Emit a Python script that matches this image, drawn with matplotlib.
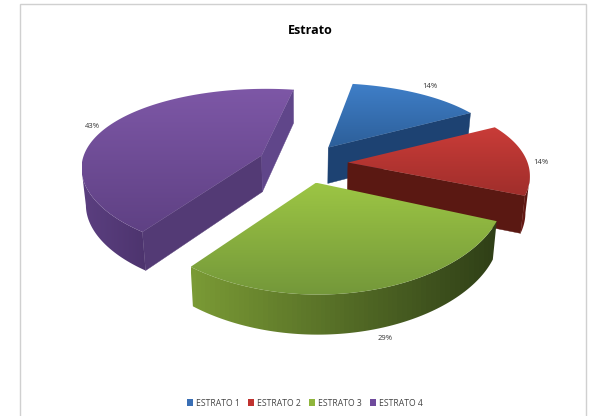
import numpy as np
from matplotlib import pyplot as plt
from matplotlib.colors import LinearSegmentedColormap
from matplotlib.patches import Patch, Polygon, Rectangle

# data
categories = ["ESTRATO 1", "ESTRATO 2", "ESTRATO 3", "ESTRATO 4"]
values = [14, 14, 29, 43]
label_text = ["14%", "14%", "29%", "43%"]

# styles
top_light = ["#3f7fc8", "#c93c38", "#9cc544", "#7d57a6"]
top_dark = ["#2d5f9a", "#a02e2b", "#74983a", "#5f4184"]
arc_light = ["#1d4272", "#6b1a16", "#7a9a35", "#5b3f80"]
arc_dark = ["#1a3a66", "#52160f", "#2f3f17", "#4d346e"]
wall_start = ["#1d4272", "#5a1812", "#3a4a1c", "#533a75"]
wall_end = ["#1d4272", "#5a1812", "#3a4a1c", "#60468a"]
legend_colors = ["#3a6fb5", "#c0322f", "#8fb53c", "#6f4a9c"]
label_pos = [(430, 86), (541, 162), (385, 339), (92, 127)]
slice_shift = [(-1, -1), (0, 0), (-2, -1), (-4, -1)]
slice_turn = [0, 1.5, 2.5, 0]

# projection of the exploded pie, in pixels
cx, cy = 305, 164
rx, ry = 180, 82
persp_x = 0.13
persp_y = 0.19
explode = 0.24
rotation = 10
height = 36.5


def project(x, y, z=0.0):
    sx = 1 / (1 - persp_x * y)
    sy = 1 / (1 - persp_y * y)
    return cx + rx * x * sx * (1 - 0.02 * z), cy + ry * y * sy + height * (1 + 0.08 * y) * z


def gradient(poly, values, extent, cmap):
    ax.add_patch(poly)
    im = ax.imshow(values, cmap=cmap, aspect="auto", extent=extent, zorder=poly.get_zorder())
    im.set_clip_path(poly)


fig = plt.figure(figsize=(5.91, 4.16), dpi=100)
ax = fig.add_axes([0, 0, 1, 1])
ax.axis("off")
ax.add_patch(Rectangle((20, 4), 566, 420, facecolor="white", edgecolor="#d0d0d0", linewidth=1.0))

angles = np.cumsum([0] + values) * 3.6 + rotation
for i in range(len(values)):
    mid = np.radians((angles[i] + angles[i + 1]) / 2)
    ox, oy = explode * np.sin(mid), -explode * np.cos(mid)
    sh_x, sh_y = slice_shift[i]
    t = np.radians(np.linspace(angles[i], angles[i + 1], 120) + slice_turn[i])
    arc_x, arc_y = ox + np.sin(t), oy - np.cos(t)
    tx, ty = project(arc_x, arc_y)
    bx, by = project(arc_x, arc_y, 1.0)
    ax0, ay0 = project(ox, oy)
    ax1, ay1 = project(ox, oy, 1.0)
    tx, bx, ax0, ax1 = tx + sh_x, bx + sh_x, ax0 + sh_x, ax1 + sh_x
    ty, by, ay0, ay1 = ty + sh_y, by + sh_y, ay0 + sh_y, ay1 + sh_y

    # only the faces turned towards the viewer
    if tx[0] < ax0:
        ax.add_patch(Polygon([(ax0, ay0), (tx[0], ty[0]), (bx[0], by[0]), (ax1, ay1)],
                             facecolor=wall_start[i], edgecolor=wall_start[i], linewidth=0.3))
    if ax0 < tx[-1]:
        ax.add_patch(Polygon([(ax0, ay0), (tx[-1], ty[-1]), (bx[-1], by[-1]), (ax1, ay1)],
                             facecolor=wall_end[i], edgecolor=wall_end[i], linewidth=0.3))
    front = np.where(np.diff(tx) < 0)[0]
    if len(front) > 0:
        j0, j1 = front[0], front[-1] + 2
        pts = np.concatenate([np.column_stack([tx[j0:j1], ty[j0:j1]]),
                              np.column_stack([bx[j0:j1], by[j0:j1]])[::-1]])
        side = LinearSegmentedColormap.from_list("side", [arc_light[i], arc_dark[i]])
        gradient(Polygon(pts, facecolor="none", edgecolor="none"), np.linspace(0, 1, 64)[None, :],
                 (pts[:, 0].min(), pts[:, 0].max(), pts[:, 1].max(), pts[:, 1].min()), side)

    # top face with a vertical gradient
    outline = np.column_stack([np.r_[ax0, tx], np.r_[ay0, ty]])
    cmap = LinearSegmentedColormap.from_list("top", [top_light[i], top_dark[i]])
    gradient(Polygon(outline, facecolor="none", edgecolor="none"), np.linspace(0, 1, 64)[:, None],
             (outline[:, 0].min(), outline[:, 0].max(), outline[:, 1].max(), outline[:, 1].min()), cmap)

for text, pos in zip(label_text, label_pos):
    ax.text(pos[0], pos[1], text, fontsize=5.5, ha="center", va="center",
            family="Open Sans", color="#333333")

ax.text(310, 30, "Estrato", fontsize=9, fontweight="bold", ha="center", va="center",
        family="Open Sans", color="black")

handles = [Patch(facecolor=c, label=name) for c, name in zip(legend_colors, categories)]
fig.legend(handles=handles, loc="center", bbox_to_anchor=(305 / 591, 1 - 403 / 416), ncol=4,
           frameon=False, handlelength=0.7, handleheight=0.7, handletextpad=0.3,
           columnspacing=1.0, prop={"family": "Open Sans", "size": 6.2}, labelcolor="#444444")

ax.set_xlim(0, 591)
ax.set_ylim(416, 0)
fig.savefig("out.png", dpi=100, facecolor="white")
